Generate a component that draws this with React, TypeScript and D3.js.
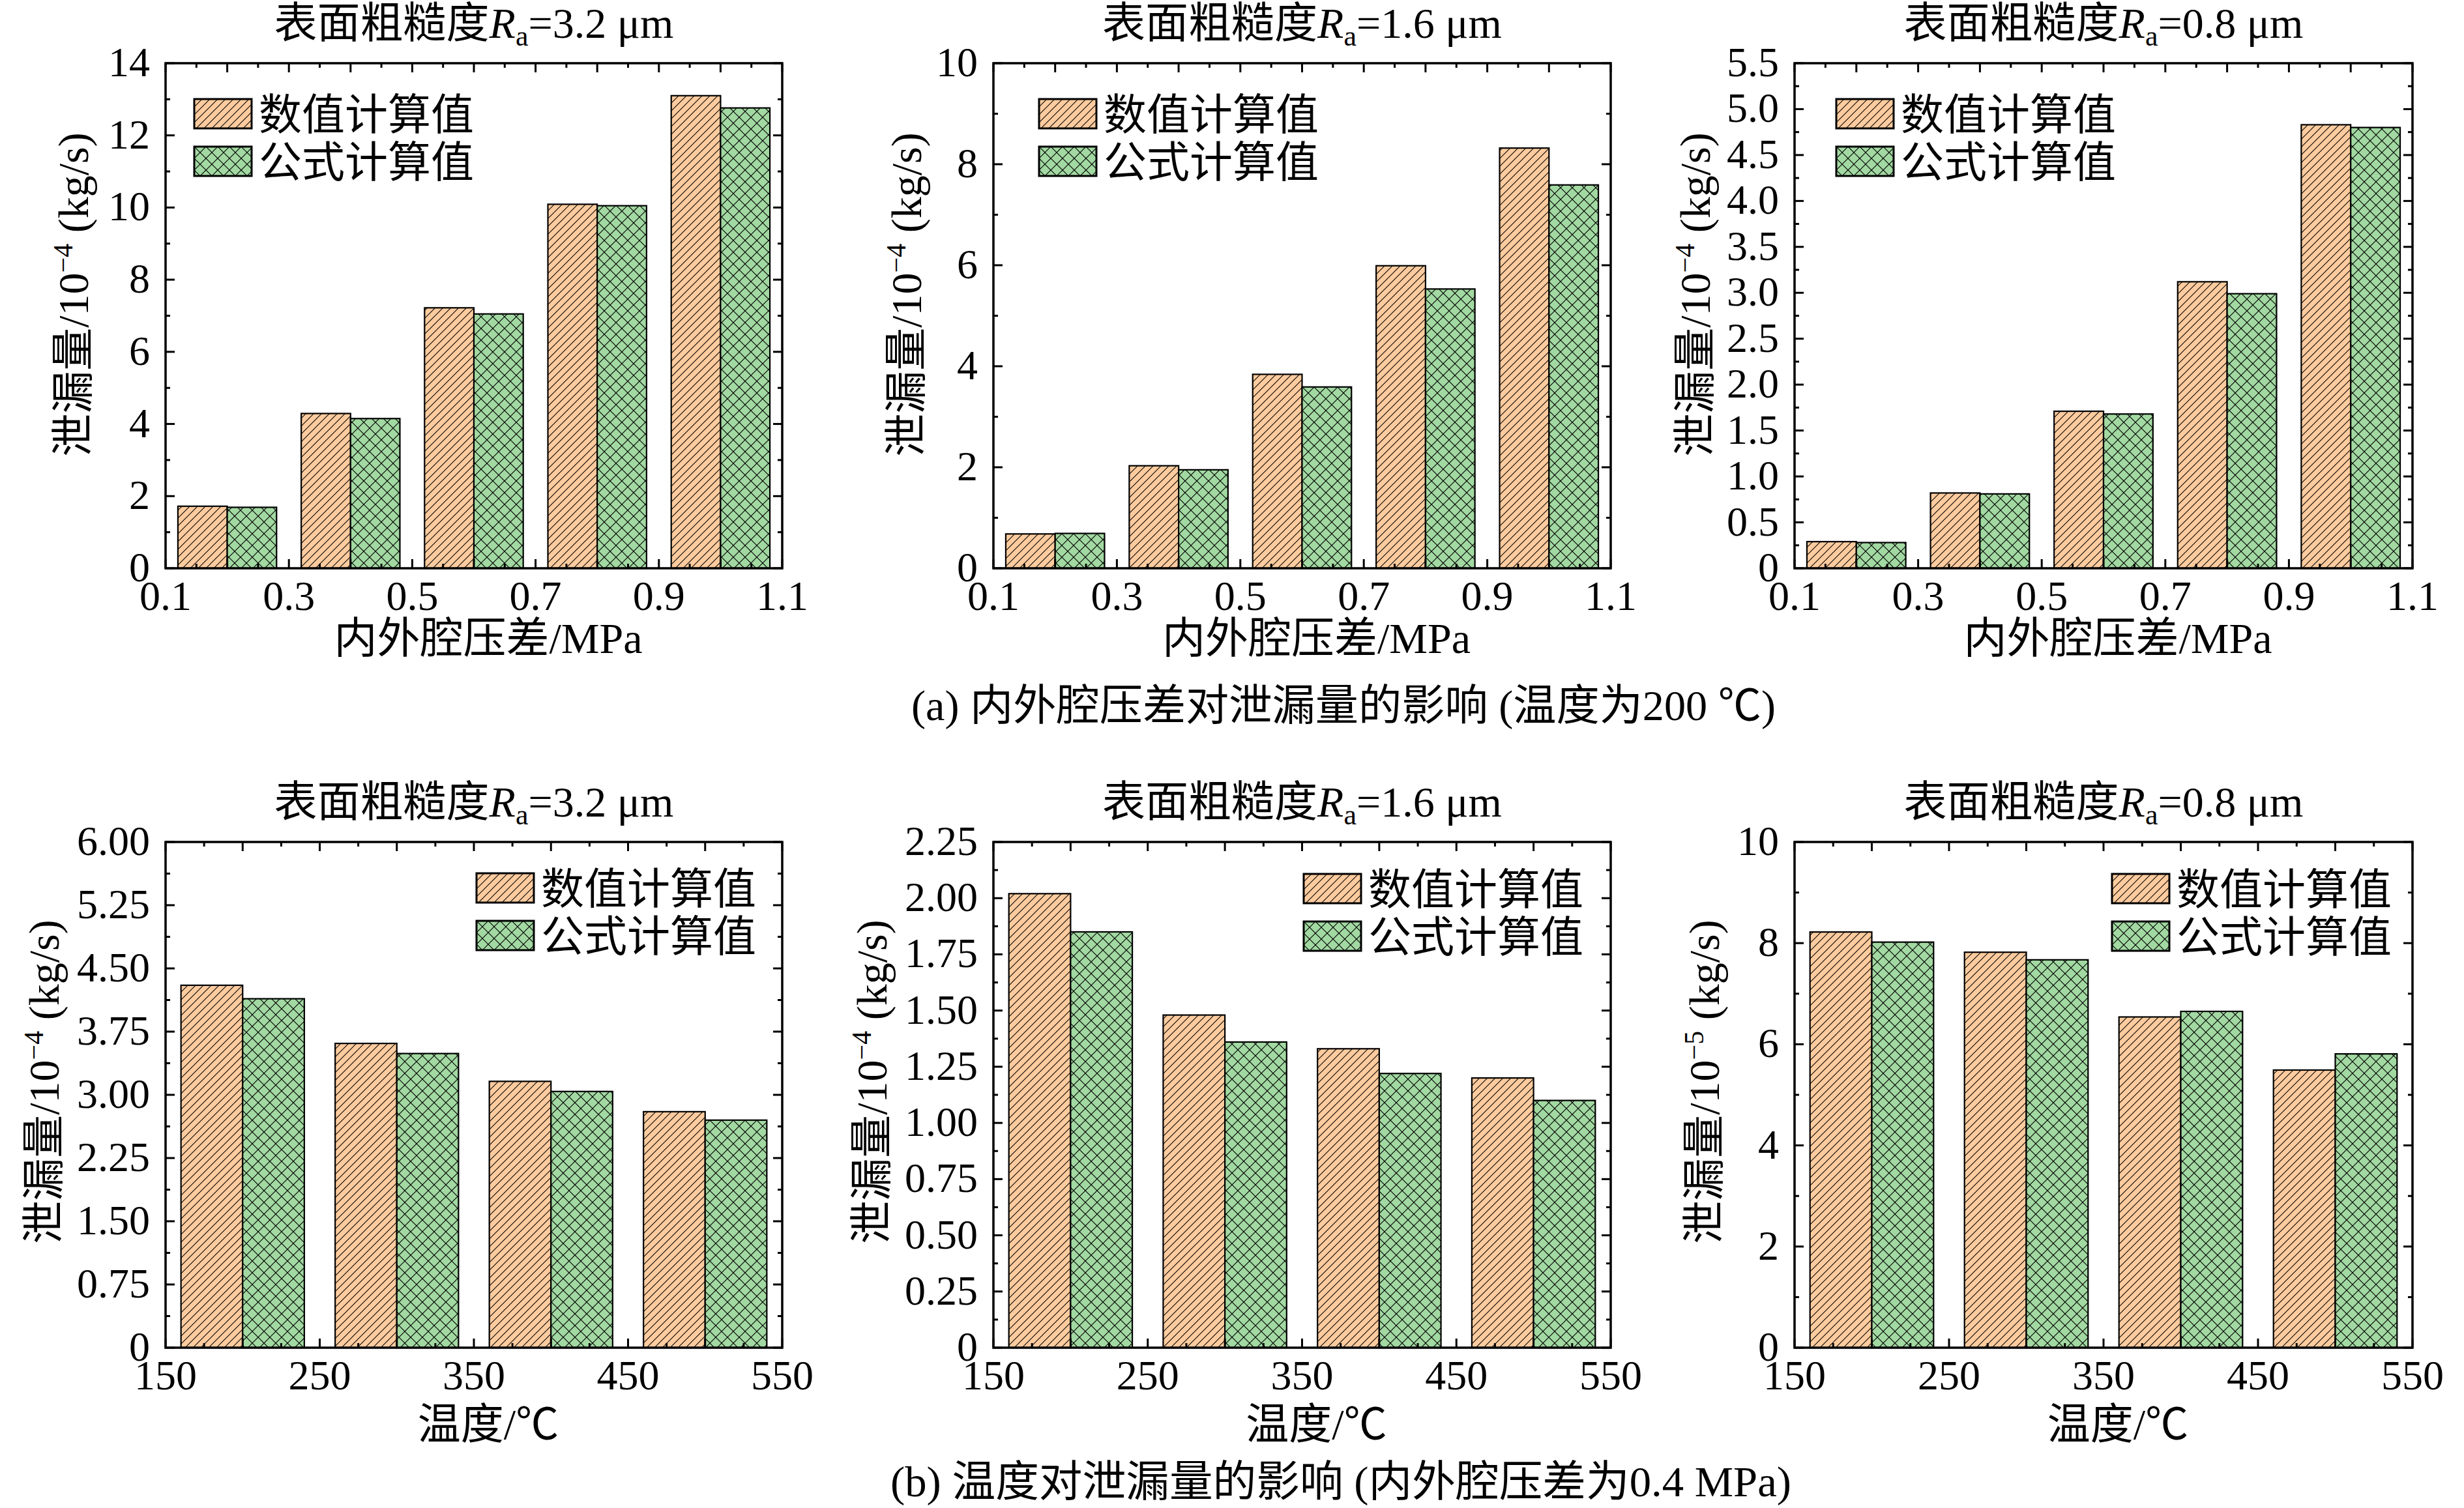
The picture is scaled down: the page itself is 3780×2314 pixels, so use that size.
import React from 'react'
import * as d3 from 'd3'

const WIDTH = 3780
const HEIGHT = 2314
const FONT = "'Liberation Serif', 'Times New Roman', 'Noto Sans CJK SC', serif"
const ORANGE = '#fdcb9e'
const GREEN = '#a2d9a2'

const seriesNames = ['数值计算值', '公式计算值']
const pressureGroups = [0.2, 0.4, 0.6, 0.8, 1.0]
const tempGroups = [200, 300, 400, 500]
const roughness = ['3.2', '1.6', '0.8']

// (a) leakage vs pressure difference, 200 ℃
const pNumeric32 = [1.72, 4.29, 7.22, 10.09, 13.1]
const pFormula32 = [1.69, 4.15, 7.05, 10.05, 12.76]
const pNumeric16 = [0.68, 2.03, 3.84, 5.99, 8.32]
const pFormula16 = [0.69, 1.95, 3.59, 5.53, 7.59]
const pNumeric08 = [0.29, 0.82, 1.71, 3.12, 4.83]
const pFormula08 = [0.28, 0.81, 1.68, 2.99, 4.8]

// (b) leakage vs temperature, 0.4 MPa
const tNumeric32 = [4.3, 3.61, 3.16, 2.8]
const tFormula32 = [4.14, 3.49, 3.04, 2.7]
const tNumeric16 = [2.02, 1.48, 1.33, 1.2]
const tFormula16 = [1.85, 1.36, 1.22, 1.1]
const tNumeric08 = [8.22, 7.82, 6.54, 5.49]
const tFormula08 = [8.02, 7.67, 6.65, 5.81]

const pressureTitle = '内外腔压差/MPa'
const tempTitle = '温度/℃'
const captionA = '(a) 内外腔压差对泄漏量的影响 (温度为200 ℃)'
const captionB = '(b) 温度对泄漏量的影响 (内外腔压差为0.4 MPa)'

const cols = [[254, 1200], [1524, 2471], [2753, 3701]]
const rows = [[97, 872], [1292, 2068]]

interface PanelCfg {
  col: number
  row: number
  rough: string
  groups: number[]
  numeric: number[]
  formula: number[]
  xDomain: [number, number]
  xMajor: number
  xMinor: number
  xLabelStep: number
  xFmt: string
  barW: number
  xTitle: string
  yMax: number
  yStep: number
  yFmt: string
  yExp: string
  yLabelX: number
  legX: number
  legY: number
}

const steps = (min: number, max: number, step: number) => {
  const n = Math.round((max - min) / step)
  return d3.range(n + 1).map(i => min + i * step)
}

const panels: PanelCfg[] = [
  { col: 0, row: 0, rough: roughness[0], groups: pressureGroups, numeric: pNumeric32, formula: pFormula32,
    xDomain: [0.1, 1.1], xMajor: 0.1, xMinor: 0.05, xLabelStep: 0.2, xFmt: '.1f', barW: 0.08, xTitle: pressureTitle,
    yMax: 14, yStep: 2, yFmt: 'd', yExp: '−4', yLabelX: 110, legX: 298, legY: 152 },
  { col: 1, row: 0, rough: roughness[1], groups: pressureGroups, numeric: pNumeric16, formula: pFormula16,
    xDomain: [0.1, 1.1], xMajor: 0.1, xMinor: 0.05, xLabelStep: 0.2, xFmt: '.1f', barW: 0.08, xTitle: pressureTitle,
    yMax: 10, yStep: 2, yFmt: 'd', yExp: '−4', yLabelX: 1388, legX: 1594, legY: 152 },
  { col: 2, row: 0, rough: roughness[2], groups: pressureGroups, numeric: pNumeric08, formula: pFormula08,
    xDomain: [0.1, 1.1], xMajor: 0.1, xMinor: 0.05, xLabelStep: 0.2, xFmt: '.1f', barW: 0.08, xTitle: pressureTitle,
    yMax: 5.5, yStep: 0.5, yFmt: '.1f', yExp: '−4', yLabelX: 2598, legX: 2817, legY: 152 },
  { col: 0, row: 1, rough: roughness[0], groups: tempGroups, numeric: tNumeric32, formula: tFormula32,
    xDomain: [150, 550], xMajor: 50, xMinor: 25, xLabelStep: 100, xFmt: 'd', barW: 40, xTitle: tempTitle,
    yMax: 6, yStep: 0.75, yFmt: '.2f', yExp: '−4', yLabelX: 65, legX: 731, legY: 1340 },
  { col: 1, row: 1, rough: roughness[1], groups: tempGroups, numeric: tNumeric16, formula: tFormula16,
    xDomain: [150, 550], xMajor: 50, xMinor: 25, xLabelStep: 100, xFmt: 'd', barW: 40, xTitle: tempTitle,
    yMax: 2.25, yStep: 0.25, yFmt: '.2f', yExp: '−4', yLabelX: 1335, legX: 2000, legY: 1341 },
  { col: 2, row: 1, rough: roughness[2], groups: tempGroups, numeric: tNumeric08, formula: tFormula08,
    xDomain: [150, 550], xMajor: 50, xMinor: 25, xLabelStep: 100, xFmt: 'd', barW: 40, xTitle: tempTitle,
    yMax: 10, yStep: 2, yFmt: 'd', yExp: '−5', yLabelX: 2612, legX: 3240, legY: 1341 },
]

const Panel = ({ cfg }: { cfg: PanelCfg }) => {
  const [left, right] = cols[cfg.col]
  const [top, bottom] = rows[cfg.row]
  const x = d3.scaleLinear().domain(cfg.xDomain).range([left, right])
  const y = d3.scaleLinear().domain([0, cfg.yMax]).range([bottom, top])

  const yMajor = steps(0, cfg.yMax, cfg.yStep)
  const yMinor = steps(cfg.yStep / 2, cfg.yMax, cfg.yStep).filter(v => v < cfg.yMax)
  const xMajor = steps(cfg.xDomain[0], cfg.xDomain[1], cfg.xMajor)
  const xMinor = steps(cfg.xDomain[0] + cfg.xMinor, cfg.xDomain[1], cfg.xMajor).filter(v => v < cfg.xDomain[1])
  const xLabels = steps(cfg.xDomain[0], cfg.xDomain[1], cfg.xLabelStep)
  const yFmt = d3.format(cfg.yFmt)
  const xFmt = d3.format(cfg.xFmt)

  const cx = (left + right) / 2
  const titleY = top - 39
  const yLabelCy = cfg.row === 0 ? 452 : 1660
  const xTitleY = bottom + (cfg.row === 0 ? 130 : 140)
  const major = 14
  const minor = 7

  return (
    <g>
      {/* bars */}
      {cfg.groups.map((g, i) => (
        <g key={`bar-${i}`}>
          <rect x={x(g - cfg.barW)} y={y(cfg.numeric[i])} width={x(g) - x(g - cfg.barW)}
            height={y(0) - y(cfg.numeric[i])} fill="url(#hatchOrange)" stroke="#000" strokeWidth={2.2} />
          <rect x={x(g)} y={y(cfg.formula[i])} width={x(g + cfg.barW) - x(g)}
            height={y(0) - y(cfg.formula[i])} fill="url(#hatchGreen)" stroke="#000" strokeWidth={2.2} />
        </g>
      ))}

      {/* ticks, pointing inward on all four sides */}
      <g stroke="#000" strokeWidth={3}>
        {yMajor.map((v, i) => (
          <g key={`ym-${i}`}>
            <line x1={left} x2={left + major} y1={y(v)} y2={y(v)} />
            <line x1={right} x2={right - major} y1={y(v)} y2={y(v)} />
          </g>
        ))}
        {yMinor.map((v, i) => (
          <g key={`yn-${i}`}>
            <line x1={left} x2={left + minor} y1={y(v)} y2={y(v)} />
            <line x1={right} x2={right - minor} y1={y(v)} y2={y(v)} />
          </g>
        ))}
        {xMajor.map((v, i) => (
          <g key={`xm-${i}`}>
            <line x1={x(v)} x2={x(v)} y1={bottom} y2={bottom - major} />
            <line x1={x(v)} x2={x(v)} y1={top} y2={top + major} />
          </g>
        ))}
        {xMinor.map((v, i) => (
          <g key={`xn-${i}`}>
            <line x1={x(v)} x2={x(v)} y1={bottom} y2={bottom - minor} />
            <line x1={x(v)} x2={x(v)} y1={top} y2={top + minor} />
          </g>
        ))}
      </g>
      <rect x={left} y={top} width={right - left} height={bottom - top} fill="none" stroke="#000" strokeWidth={3.5} />

      {/* tick labels */}
      <g fontSize={64} fill="#000">
        {yMajor.map((v, i) => (
          <text key={`yl-${i}`} x={left - 24} y={y(v) + 20} textAnchor="end">
            {v === 0 ? '0' : yFmt(v)}
          </text>
        ))}
        {xLabels.map((v, i) => (
          <text key={`xl-${i}`} x={x(v)} y={bottom + 64} textAnchor="middle">{xFmt(v)}</text>
        ))}
      </g>

      {/* titles */}
      <text x={cx} y={titleY} textAnchor="middle" fontSize={66}>
        表面粗糙度<tspan fontStyle="italic">R</tspan>
        <tspan fontSize={44} dy={12}>a</tspan>
        <tspan dy={-12}>={cfg.rough} μm</tspan>
      </text>
      <text x={cx + 22} y={xTitleY} textAnchor="middle" fontSize={66}>{cfg.xTitle}</text>
      <text transform={`translate(${cfg.yLabelX + 25},${yLabelCy}) rotate(-90)`} textAnchor="middle" fontSize={66}>
        泄漏量/10<tspan fontSize={42} dy={-24}>{cfg.yExp}</tspan>
        <tspan dy={24}> (kg/s)</tspan>
      </text>

      {/* legend */}
      {seriesNames.map((name, i) => (
        <g key={`leg-${i}`} transform={`translate(${cfg.legX},${cfg.legY + i * 73})`}>
          <rect width={88} height={45} fill={i === 0 ? 'url(#hatchOrange)' : 'url(#hatchGreen)'} stroke="#000" strokeWidth={3} />
          <text x={99} y={47} fontSize={66}>{name}</text>
        </g>
      ))}
    </g>
  )
}

export default function App() {
  const po = 12
  const pg = 18
  return (
    <svg width={WIDTH} height={HEIGHT} viewBox={`0 0 ${WIDTH} ${HEIGHT}`}
      style={{ position: 'absolute', left: 0, top: 0, background: '#fff' }} fontFamily={FONT}>
      <defs>
        <pattern id="hatchOrange" patternUnits="userSpaceOnUse" width={po} height={po}>
          <rect width={po} height={po} fill={ORANGE} />
          <path d={`M0,${po} L${po},0 M${-po / 2},${po / 2} L${po / 2},${-po / 2} M${po / 2},${po * 1.5} L${po * 1.5},${po / 2}`}
            stroke="#000" strokeWidth={1.05} />
        </pattern>
        <pattern id="hatchGreen" patternUnits="userSpaceOnUse" width={pg} height={pg}>
          <rect width={pg} height={pg} fill={GREEN} />
          <path d={`M0,0 L${pg},${pg} M${pg},0 L0,${pg} M-4,4 L4,-4 M${pg - 4},${pg + 4} L${pg + 4},${pg - 4} M-4,${pg - 4} L4,${pg + 4} M${pg - 4},-4 L${pg + 4},4`}
            stroke="#000" strokeWidth={1.15} />
        </pattern>
      </defs>
      <rect width={WIDTH} height={HEIGHT} fill="#fff" />
      {panels.map((p, i) => <Panel key={i} cfg={p} />)}
      <text x={1398} y={1105} fontSize={66} textLength={1326} lengthAdjust="spacingAndGlyphs">{captionA}</text>
      <text x={1366} y={2296} fontSize={66} textLength={1382} lengthAdjust="spacingAndGlyphs">{captionB}</text>
    </svg>
  )
}
